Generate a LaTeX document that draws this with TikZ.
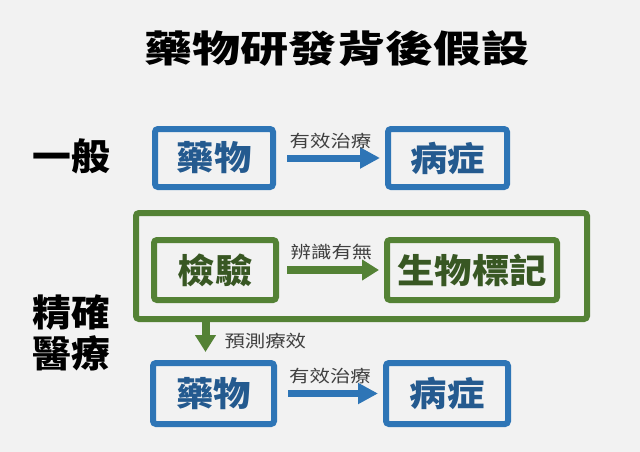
\documentclass[tikz,border=0pt]{standalone}
\usepackage{fontspec}
\setmainfont{Noto Sans CJK TC}
\newfontfamily\ttlfont{Noto Sans CJK TC}[FakeStretch=1.3]
\newfontfamily\boxfont{Noto Sans CJK TC}[FakeStretch=1.1]
\newfontfamily\sidefont{Noto Sans CJK TC}[FakeStretch=1.05]
\newfontfamily\lblfont{Noto Sans CJK TC}[FakeStretch=1.2]
\usepackage{tikz}
\usetikzlibrary{positioning,arrows.meta}
\definecolor{bg}{HTML}{F2F2F2}
\definecolor{bluL}{HTML}{2E75B6}
\definecolor{bluD}{HTML}{245A8F}
\definecolor{grnL}{HTML}{548235}
\definecolor{grnD}{HTML}{385723}
\definecolor{lblc}{HTML}{404040}

\begin{document}
\begin{tikzpicture}[
    x=1pt, y=-1pt,
    big/.style={font=\boxfont\fontsize{34}{40}\selectfont\bfseries, align=center},
    bbox/.style={draw=bluL, line width=6pt, rounded corners=3pt,
                 minimum width=118pt, minimum height=58pt,
                 inner sep=0pt, text=bluD, big},
    gbox/.style={draw=grnL, line width=6pt, rounded corners=3pt,
                 minimum width=122pt, minimum height=60pt,
                 inner sep=0pt, text=grnD, big},
    side/.style={font=\sidefont\fontsize{37}{41}\selectfont\bfseries, align=center},
    lbl/.style={font=\lblfont\fontsize{17}{17}\selectfont, text=lblc, inner sep=1pt},
    barr/.style={-{Triangle[length=20pt,width=20pt]}, line width=7pt, draw=bluL},
    garr/.style={-{Triangle[length=17pt,width=20pt]}, line width=8pt, draw=grnL}
  ]
    \useasboundingbox[fill=bg] (0,0) rectangle (640,452);
    \node[font=\ttlfont\fontsize{37}{37}\selectfont\bfseries] (T) at (337,49) {藥物研發背後假設};
    \node[side] (L1) at (71,156) {一般};
    \node[side] (L2) at (71,333) {精確\\醫療};
    \node[bbox] (A) at (214,158) {藥物};
    \node[bbox, minimum width=119pt, right=109pt of A] (B) {病症};
    \node[draw=grnL, line width=6pt, rounded corners=3pt,
          minimum width=451pt, minimum height=106pt] (E) at (361.5,266) {};
    \node[gbox] (C) at (215,270) {檢驗};
    \node[gbox, minimum width=170pt, right=105pt of C] (D) {生物標記};
    \node[bbox, minimum width=121pt, minimum height=61pt] (F) at (213.5,393.5) {藥物};
    \node[bbox, minimum width=122pt, minimum height=61pt, right=106pt of F] (G) {病症};
    \draw[barr, shorten <=11pt, shorten >=5pt] (A)
      -- node[lbl, above=5pt] {有效治療} (B);
    \draw[garr, shorten <=8pt, shorten >=5pt] (C)
      -- node[lbl, above=5pt] {辨識有無} (D);
    \draw[barr, shorten <=11pt, shorten >=5pt] (F)
      -- node[lbl, above=5pt] {有效治療} (G);
    \draw[garr, shorten >=8pt] ([xshift=-8pt]F.north |- E.south)
      -- node[lbl, right=14pt] {預測療效} ([xshift=-8pt]F.north);
  \end{tikzpicture}
\end{document}
